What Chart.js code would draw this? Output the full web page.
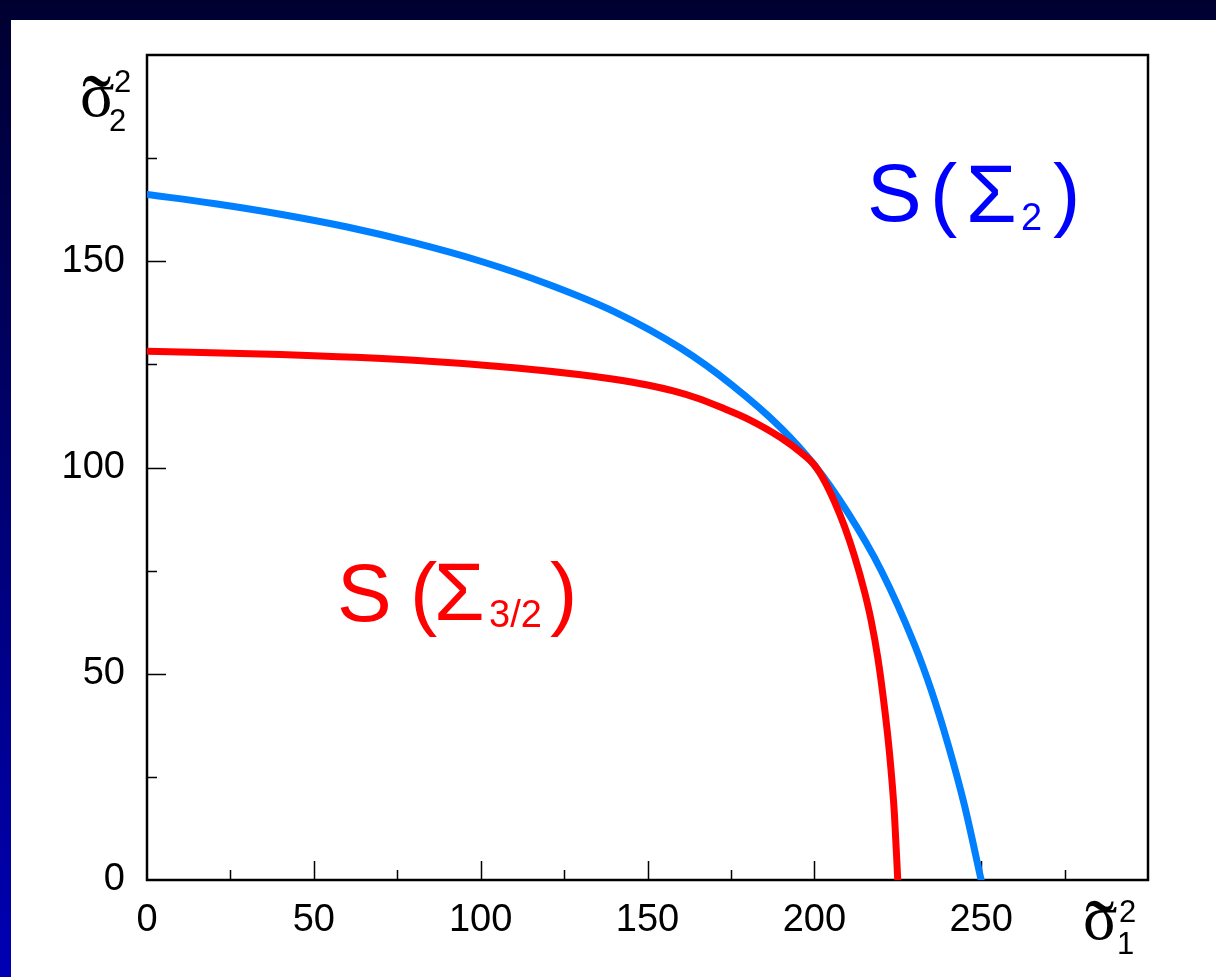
<!DOCTYPE html>
<html>
<head>
<meta charset="utf-8">
<script src="https://cdn.jsdelivr.net/npm/chart.js@4.4.1/dist/chart.umd.min.js"></script>
<style>
  html, body { margin: 0; padding: 0; background: #fff; }
  #plot { display: block; }
</style>
</head>
<body>
<canvas id="plot" width="1216" height="977"></canvas>
<script>
// boundary S(Sigma_2): sigma1^2 -> sigma2^2
var xSigma2 = [0, 20, 40, 60, 80, 100, 120, 140, 160, 175, 190, 200, 210, 220, 230, 235, 240, 245, 250];
var ySigma2 = [166.2, 164.0, 161.4, 158.3, 154.5, 150.0, 144.5, 137.8, 128.9, 120.2, 109.6, 100.6, 89.1, 75.1, 57.1, 46.1, 33.1, 18.1, 0];

// boundary S(Sigma_3/2)
var xSigma32 = [0, 40, 80, 110, 130, 140, 150, 158, 165, 172, 180, 190, 196, 200, 203, 206, 209, 212, 215, 217, 219, 221, 222.5, 224, 225];
var ySigma32 = [128.2, 127.4, 126.0, 124.2, 122.5, 121.4, 120.0, 118.5, 116.8, 114.6, 111.8, 107.2, 103.6, 100.6, 96.8, 91.8, 85.8, 78.6, 70.0, 63.0, 54.0, 42.0, 31.0, 16.0, 0];

// labelled ticks
var xTickLabels = [0, 50, 100, 150, 200, 250];
var yTickLabels = [0, 50, 100, 150];

function toPoints(xs, ys) {
  var pts = [];
  for (var i = 0; i < xs.length; i++) pts.push({ x: xs[i], y: ys[i] });
  return pts;
}

// draw a string so that its ink box starts at (left, bottom)
function inkText(ctx, str, font, color, left, bottom) {
  ctx.font = font;
  ctx.fillStyle = color;
  ctx.textAlign = 'left';
  ctx.textBaseline = 'alphabetic';
  var m = ctx.measureText(str);
  ctx.fillText(str, left + m.actualBoundingBoxLeft, bottom - m.actualBoundingBoxDescent);
}
// same, but anchored at the ink top
function inkTextTop(ctx, str, font, color, left, top) {
  ctx.font = font;
  ctx.fillStyle = color;
  ctx.textAlign = 'left';
  ctx.textBaseline = 'alphabetic';
  var m = ctx.measureText(str);
  ctx.fillText(str, left + m.actualBoundingBoxLeft, top + m.actualBoundingBoxAscent);
}

var bgPlugin = {
  id: 'slideBg',
  beforeDraw: function (chart) {
    var ctx = chart.ctx;
    var g = ctx.createLinearGradient(0, 0, 0, chart.height);
    g.addColorStop(0, '#000030');
    g.addColorStop(1, '#0000b4');
    ctx.save();
    ctx.fillStyle = g;
    ctx.fillRect(0, 0, chart.width, chart.height);
    ctx.fillStyle = '#ffffff';
    ctx.fillRect(11, 20, chart.width - 11, chart.height - 20);
    ctx.restore();
  }
};

// frame + inside ticks (major every 50, minor every 25)
var framePlugin = {
  id: 'frame',
  beforeDatasetsDraw: function (chart) {
    var ctx = chart.ctx, a = chart.chartArea;
    var xs = chart.scales.x, ys = chart.scales.y;
    ctx.save();
    ctx.strokeStyle = '#000';
    ctx.lineWidth = 1.5;
    ctx.beginPath();
    for (var v = 25; v < 300; v += 25) {
      var px = Math.round(xs.getPixelForValue(v)) + 0.5;
      var len = (v % 50 === 0) ? 19 : 10;
      ctx.moveTo(px, a.bottom);
      ctx.lineTo(px, a.bottom - len);
    }
    for (var w = 25; w < 200; w += 25) {
      var py = Math.round(ys.getPixelForValue(w)) + 0.5;
      var len2 = (w % 50 === 0) ? 19 : 10;
      ctx.moveTo(a.left, py);
      ctx.lineTo(a.left + len2, py);
    }
    ctx.stroke();
    ctx.lineWidth = 2.5;
    ctx.strokeRect(a.left, a.top, a.right - a.left, a.bottom - a.top);
    ctx.restore();
  }
};

var textPlugin = {
  id: 'labels',
  afterDraw: function (chart) {
    var ctx = chart.ctx;
    var big = "82px 'Liberation Sans'";
    var small = "38px 'Liberation Sans'";
    var sig = "64px 'Liberation Serif'";
    var til = "88px 'Liberation Serif'";
    var scr = "31px 'Liberation Sans'";
    ctx.save();
    // S(Σ2)
    inkText(ctx, 'S', big, '#0000ff', 870, 222);
    inkText(ctx, '(', big, '#0000ff', 935, 238);
    inkText(ctx, '\u03a3', big, '#0000ff', 970, 222);
    inkText(ctx, '2', small, '#0000ff', 1022, 230);
    inkText(ctx, ')', big, '#0000ff', 1053, 238);
    // S(Σ3/2)
    inkText(ctx, 'S', big, '#ff0000', 340, 622);
    inkText(ctx, '(', big, '#ff0000', 415, 637);
    inkText(ctx, '\u03a3', big, '#ff0000', 438, 620);
    inkText(ctx, '3/2', small, '#ff0000', 490, 627);
    inkText(ctx, ')', big, '#ff0000', 550, 637);
    // axis titles
    inkText(ctx, '\u03c3', sig, '#000', 82, 117);
    inkTextTop(ctx, '\u02dc', til, '#000', 82, 75);
    inkText(ctx, '2', scr, '#000', 115, 92);
    inkText(ctx, '2', scr, '#000', 110, 131);

    inkText(ctx, '\u03c3', sig, '#000', 1085, 940);
    inkTextTop(ctx, '\u02dc', til, '#000', 1085, 900);
    inkText(ctx, '2', scr, '#000', 1120, 922);
    inkText(ctx, '1', scr, '#000', 1119, 954);
    ctx.restore();
  }
};

var tickFont = { family: 'Liberation Sans', size: 38 };

new Chart(document.getElementById('plot'), {
  type: 'scatter',
  data: {
    datasets: [
      {
        label: 'S(\u03a33/2)',
        data: toPoints(xSigma32, ySigma32),
        showLine: true,
        borderColor: '#ff0000',
        borderWidth: 7,
        pointRadius: 0,
        cubicInterpolationMode: 'monotone',
        borderCapStyle: 'round',
        borderJoinStyle: 'round'
      },
      {
        label: 'S(\u03a32)',
        data: toPoints(xSigma2, ySigma2),
        showLine: true,
        borderColor: '#0080ff',
        borderWidth: 7,
        pointRadius: 0,
        cubicInterpolationMode: 'monotone',
        borderCapStyle: 'round',
        borderJoinStyle: 'round'
      }
    ]
  },
  options: {
    responsive: false,
    animation: false,
    devicePixelRatio: 1,
    layout: { padding: { top: 55, right: 68, left: 0, bottom: 0 } },
    plugins: {
      legend: { display: false },
      tooltip: { enabled: false }
    },
    scales: {
      x: {
        type: 'linear',
        min: 0,
        max: 300,
        grid: { display: false },
        border: { display: false },
        ticks: {
          stepSize: 50,
          autoSkip: false,
          maxRotation: 0,
          padding: 10,
          color: '#000',
          font: tickFont,
          callback: function (v) { return xTickLabels.indexOf(v) >= 0 ? String(v) : ''; }
        },
        afterFit: function (s) { s.height = 97; }
      },
      y: {
        type: 'linear',
        min: 0,
        max: 200,
        grid: { display: false },
        border: { display: false },
        ticks: {
          stepSize: 50,
          autoSkip: false,
          padding: 14,
          color: '#000',
          font: tickFont,
          callback: function (v) { return yTickLabels.indexOf(v) >= 0 ? String(v) : ''; }
        },
        afterFit: function (s) { s.width = 147; }
      }
    }
  },
  plugins: [bgPlugin, framePlugin, textPlugin]
});
</script>
</body>
</html>
